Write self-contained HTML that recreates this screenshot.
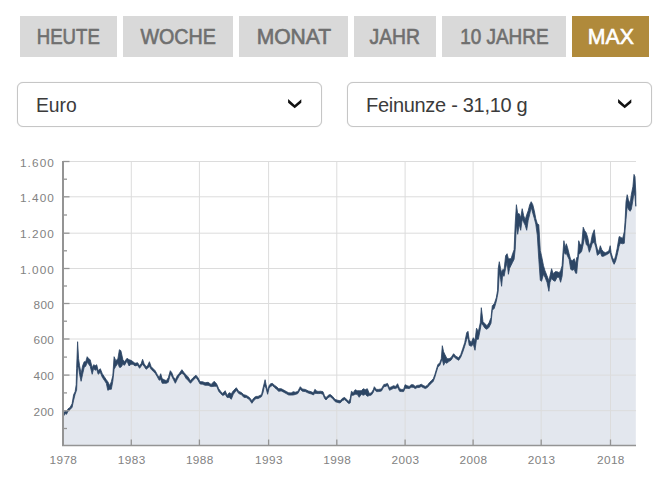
<!DOCTYPE html>
<html><head><meta charset="utf-8"><style>
html,body{margin:0;padding:0;background:#fff;width:670px;height:487px;overflow:hidden;position:relative}
body{font-family:"Liberation Sans",sans-serif}
.btn{position:absolute;top:16px;height:41px;background:#d9d9d9;color:#6f6f6f;font-weight:normal;-webkit-text-stroke:0.65px #6f6f6f;font-size:22px;line-height:42px;text-align:center;white-space:nowrap}
.btn.act{background:#b08a3b;color:#fff;-webkit-text-stroke:0.65px #fff}
.dd{position:absolute;top:82px;height:43px;width:303px;border:1px solid #c6c6c6;border-radius:6px;box-shadow:0 0 1px rgba(0,0,0,0.18);background:#fff;box-sizing:content-box}
.dd span{position:absolute;left:18px;top:0;line-height:44px;font-size:20px;color:#3b3b3b;white-space:nowrap}
.dd svg{position:absolute;top:14.5px}
</style></head><body>
<div class="btn" style="left:20px;width:97px"><span style="display:inline-block;transform:scaleX(0.845)">HEUTE</span></div>
<div class="btn" style="left:123px;width:110px"><span style="display:inline-block;transform:scaleX(0.896)">WOCHE</span></div>
<div class="btn" style="left:239px;width:109px"><span style="display:inline-block;transform:scaleX(0.958)">MONAT</span></div>
<div class="btn" style="left:354px;width:82px"><span style="display:inline-block;transform:scaleX(0.879)">JAHR</span></div>
<div class="btn" style="left:442px;width:124px"><span style="display:inline-block;transform:scaleX(0.861)">10 JAHRE</span></div>
<div class="btn act" style="left:572px;width:77px"><span style="display:inline-block;transform:scaleX(0.966)">MAX</span></div>
<div class="dd" style="left:17px"><span style="transform:scaleX(0.965);transform-origin:left center">Euro</span></div>
<div class="dd" style="left:347px"><span style="letter-spacing:-0.3px">Feinunze - 31,10 g</span></div>
<svg width="670" height="487" viewBox="0 0 670 487" style="position:absolute;left:0;top:0">
<path d="M63,445.5 L63,413.7 L63.5,412.7 L65,411.4 L66.6,411.7 L68,408.9 L70.1,407.4 L72.1,403.7 L73.6,394.7 L75.1,391.7 L76.2,384.7 L76.6,368.7 L77.6,341.7 L78.6,358.7 L79.6,365.7 L81.1,373.7 L82.6,365.7 L84.2,361.7 L85.7,361.7 L87.2,356.7 L88.7,358.7 L90.2,359.7 L92.2,367.7 L93.7,364.7 L95.2,365.7 L96.7,364.7 L98.2,370.7 L100.3,368.7 L102.3,373.7 L104.3,376.7 L106.3,379.7 L107.8,381.7 L109.8,385.7 L111.3,381.7 L112.8,375.7 L114.1,356.7 L115.8,360.7 L117.9,358.7 L119.4,349.7 L120.9,350.7 L122.9,359.7 L124.5,361.7 L127,358.3 L129,359.7 L131,360.3 L133,361.7 L135,363.3 L137.6,362.7 L139.6,365.7 L141.1,363.7 L142.6,359.3 L144.1,363.7 L146.1,366.7 L147.6,365.7 L149.4,361.7 L151.2,366.7 L153.2,368.7 L155.2,370.7 L157.2,374.4 L159.2,377.7 L160.7,373.7 L162.2,378.7 L164.2,379.7 L166.3,380.7 L168.3,377.7 L170.3,370.7 L171.8,372.7 L173.3,376.7 L175.3,379.7 L177.3,375.7 L179.3,373.4 L181.9,369.7 L183.9,372.4 L185.9,374.7 L187.9,376.7 L190.5,380.7 L193,377.7 L196,375.2 L198,377.7 L200,381.7 L202.6,381.7 L205.1,382.7 L208.1,382.3 L211.1,384.4 L214.2,381.3 L216.7,384 L218.7,388.7 L220.7,391.4 L222.7,393.4 L225.2,390.7 L227.2,395.4 L229.2,392.7 L231.3,393.7 L233.3,390.7 L236.3,387.7 L238.8,391.4 L241.3,392.4 L243.8,394.7 L246.4,395.4 L249.4,397.4 L251.9,400.7 L254,397.7 L256,396.4 L258,396.4 L260,395.4 L261.6,394.4 L263.1,387.7 L264.1,383.7 L265.1,379.7 L266.1,384.7 L267.6,390.7 L269.1,385.7 L270.6,383.7 L272.6,383.4 L274.6,385.4 L276.6,386.7 L278.7,388.7 L281.2,388.7 L283.7,390 L286.2,391.4 L288.7,392.8 L291.2,392.9 L293.2,391.7 L295.3,392.2 L297.8,391.4 L300.3,386.7 L302.3,389 L305.3,389.4 L308.3,390.9 L311.4,391.8 L313.4,392.8 L314.9,389.3 L316.9,391.2 L318.9,391.4 L320.5,391.2 L323,391.7 L324.5,395.7 L326,397.7 L328.1,395.4 L330.1,394.4 L332.6,396.4 L335.1,399.4 L337.6,400.2 L340.1,400.8 L342.6,398.2 L344.7,397.4 L346.7,399.4 L348.7,401.4 L350.2,398.7 L351.4,391.3 L353.2,392.7 L355.2,389.7 L357.2,390.7 L359.2,390.7 L361.3,390.7 L363.3,388.7 L365.3,389.7 L367.3,388.7 L369.3,393.4 L371.3,392.9 L373.3,389.7 L374.3,386.7 L376.4,389.4 L378.4,389.4 L381.4,388.9 L383.9,384.4 L385,384.4 L387.5,383.4 L389.5,387.7 L391.6,386.7 L393.6,385.7 L395.6,386.4 L397.6,383.7 L399.6,388.7 L401.6,389.4 L403.6,389.4 L405.1,384.7 L407.1,385.7 L409.2,386.4 L411.2,384.7 L413.2,384.7 L415.2,386.4 L417.2,385.4 L419.2,385.2 L421.2,384.2 L423.2,385.4 L425.3,386.4 L427.3,385.4 L429.3,382.7 L431.3,380.7 L433.3,378.7 L434.8,374.7 L436.3,369.7 L437.8,364.7 L439.8,362.7 L441.3,358.7 L442.3,345.7 L443.6,351.7 L445,354.7 L447,358.7 L449,358.7 L451,357.7 L453.6,353.7 L456,356.4 L458.7,357.7 L460.7,354.7 L462.7,348.7 L464.7,342.7 L466.7,332.7 L468,331.3 L469.2,339.7 L471.2,342.7 L473.3,337.7 L475,340.7 L476.5,328.2 L478.3,331.7 L480.3,322.7 L481.3,307.7 L483,321.7 L485,323.7 L487,325.7 L489,322.7 L491,317.7 L492.3,305.7 L494.3,303.7 L496.3,297.7 L497.5,290.7 L498.2,268.7 L499.3,261.7 L500.6,268.7 L501.6,272.7 L502.6,269.7 L504.1,269.7 L505.6,255.7 L507.1,253.7 L508.4,258.7 L509.6,258.7 L511.1,258.7 L512.6,253.7 L514.1,249.7 L515.2,223.7 L516.4,204.7 L517.7,213.7 L519.2,213.7 L520.7,217.7 L522.2,208.7 L523.7,215.7 L525.2,219.7 L526.7,214.7 L528.2,210.7 L529.7,204.7 L531.2,201.7 L532.8,204.7 L534.3,210.7 L535.8,218.7 L537.3,223.7 L538.8,224.7 L540.3,250.7 L541.5,255.7 L543.5,265.7 L545,270.7 L547,275.7 L548.9,280.7 L550,275.7 L551.6,268.7 L553.1,273.7 L555.1,271.7 L557.1,271.7 L559.1,272.7 L560.6,270.7 L562.1,265.7 L563.1,250.7 L563.9,240.7 L565.1,247.7 L566.3,243.7 L567.6,247.7 L569.1,253.7 L570.7,259.7 L572.2,260.7 L574.2,258.7 L575.7,263.7 L576.7,257.7 L577.7,256.7 L578.7,240.7 L580.2,244.7 L581.7,244.7 L583.2,227.2 L584.7,230.7 L586.2,232.7 L587.8,237.7 L589.3,245.7 L590.8,242.7 L592.3,234.7 L594.3,229.7 L595.8,242.7 L597.3,248.7 L598.8,251.7 L600.3,245.7 L601.8,249.7 L603.4,251.7 L605.4,252.7 L607.4,251.7 L608.9,250.7 L610.2,245.7 L611.1,252.7 L612.6,257.7 L614.1,260.7 L615.6,255.7 L617.1,248.7 L619.1,236.7 L620.2,236.7 L621,237.7 L622.7,238.2 L624.3,231.7 L625.1,220.7 L626,201.7 L627.2,194.7 L628.4,199.7 L630.1,203.7 L631.3,194.7 L632.9,186.7 L634,174.4 L635,176.7 L635.8,192.7 L635.8,445.5 Z" fill="#e3e7ee"/>
<line x1="63" x2="636" y1="410.7" y2="410.7" stroke="#dcdcdc" stroke-width="1"/>
<line x1="63" x2="636" y1="375.1" y2="375.1" stroke="#dcdcdc" stroke-width="1"/>
<line x1="63" x2="636" y1="339" y2="339" stroke="#dcdcdc" stroke-width="1"/>
<line x1="63" x2="636" y1="303.5" y2="303.5" stroke="#dcdcdc" stroke-width="1"/>
<line x1="63" x2="636" y1="268.5" y2="268.5" stroke="#dcdcdc" stroke-width="1"/>
<line x1="63" x2="636" y1="233.2" y2="233.2" stroke="#dcdcdc" stroke-width="1"/>
<line x1="63" x2="636" y1="196.8" y2="196.8" stroke="#dcdcdc" stroke-width="1"/>
<line x1="63" x2="636" y1="161.5" y2="161.5" stroke="#dcdcdc" stroke-width="1"/>
<line x1="131.3" x2="131.3" y1="162" y2="445" stroke="#dcdcdc" stroke-width="1"/>
<line x1="199.4" x2="199.4" y1="162" y2="445" stroke="#dcdcdc" stroke-width="1"/>
<line x1="268.6" x2="268.6" y1="162" y2="445" stroke="#dcdcdc" stroke-width="1"/>
<line x1="336.8" x2="336.8" y1="162" y2="445" stroke="#dcdcdc" stroke-width="1"/>
<line x1="405.1" x2="405.1" y1="162" y2="445" stroke="#dcdcdc" stroke-width="1"/>
<line x1="473.1" x2="473.1" y1="162" y2="445" stroke="#dcdcdc" stroke-width="1"/>
<line x1="541.2" x2="541.2" y1="162" y2="445" stroke="#dcdcdc" stroke-width="1"/>
<line x1="610.5" x2="610.5" y1="162" y2="445" stroke="#dcdcdc" stroke-width="1"/>
<path d="M63,413.7 L63.5,412.7 L65,411.4 L66.6,411.7 L68,408.9 L70.1,407.4 L72.1,403.7 L73.6,394.7 L75.1,391.7 L76.2,384.7 L76.6,368.7 L77.6,341.7 L78.6,358.7 L79.6,365.7 L81.1,373.7 L82.6,365.7 L84.2,361.7 L85.7,361.7 L87.2,356.7 L88.7,358.7 L90.2,359.7 L92.2,367.7 L93.7,364.7 L95.2,365.7 L96.7,364.7 L98.2,370.7 L100.3,368.7 L102.3,373.7 L104.3,376.7 L106.3,379.7 L107.8,381.7 L109.8,385.7 L111.3,381.7 L112.8,375.7 L114.1,356.7 L115.8,360.7 L117.9,358.7 L119.4,349.7 L120.9,350.7 L122.9,359.7 L124.5,361.7 L127,358.3 L129,359.7 L131,360.3 L133,361.7 L135,363.3 L137.6,362.7 L139.6,365.7 L141.1,363.7 L142.6,359.3 L144.1,363.7 L146.1,366.7 L147.6,365.7 L149.4,361.7 L151.2,366.7 L153.2,368.7 L155.2,370.7 L157.2,374.4 L159.2,377.7 L160.7,373.7 L162.2,378.7 L164.2,379.7 L166.3,380.7 L168.3,377.7 L170.3,370.7 L171.8,372.7 L173.3,376.7 L175.3,379.7 L177.3,375.7 L179.3,373.4 L181.9,369.7 L183.9,372.4 L185.9,374.7 L187.9,376.7 L190.5,380.7 L193,377.7 L196,375.2 L198,377.7 L200,381.7 L202.6,381.7 L205.1,382.7 L208.1,382.3 L211.1,384.4 L214.2,381.3 L216.7,384 L218.7,388.7 L220.7,391.4 L222.7,393.4 L225.2,390.7 L227.2,395.4 L229.2,392.7 L231.3,393.7 L233.3,390.7 L236.3,387.7 L238.8,391.4 L241.3,392.4 L243.8,394.7 L246.4,395.4 L249.4,397.4 L251.9,400.7 L254,397.7 L256,396.4 L258,396.4 L260,395.4 L261.6,394.4 L263.1,387.7 L264.1,383.7 L265.1,379.7 L266.1,384.7 L267.6,390.7 L269.1,385.7 L270.6,383.7 L272.6,383.4 L274.6,385.4 L276.6,386.7 L278.7,388.7 L281.2,388.7 L283.7,390 L286.2,391.4 L288.7,392.8 L291.2,392.9 L293.2,391.7 L295.3,392.2 L297.8,391.4 L300.3,386.7 L302.3,389 L305.3,389.4 L308.3,390.9 L311.4,391.8 L313.4,392.8 L314.9,389.3 L316.9,391.2 L318.9,391.4 L320.5,391.2 L323,391.7 L324.5,395.7 L326,397.7 L328.1,395.4 L330.1,394.4 L332.6,396.4 L335.1,399.4 L337.6,400.2 L340.1,400.8 L342.6,398.2 L344.7,397.4 L346.7,399.4 L348.7,401.4 L350.2,398.7 L351.4,391.3 L353.2,392.7 L355.2,389.7 L357.2,390.7 L359.2,390.7 L361.3,390.7 L363.3,388.7 L365.3,389.7 L367.3,388.7 L369.3,393.4 L371.3,392.9 L373.3,389.7 L374.3,386.7 L376.4,389.4 L378.4,389.4 L381.4,388.9 L383.9,384.4 L385,384.4 L387.5,383.4 L389.5,387.7 L391.6,386.7 L393.6,385.7 L395.6,386.4 L397.6,383.7 L399.6,388.7 L401.6,389.4 L403.6,389.4 L405.1,384.7 L407.1,385.7 L409.2,386.4 L411.2,384.7 L413.2,384.7 L415.2,386.4 L417.2,385.4 L419.2,385.2 L421.2,384.2 L423.2,385.4 L425.3,386.4 L427.3,385.4 L429.3,382.7 L431.3,380.7 L433.3,378.7 L434.8,374.7 L436.3,369.7 L437.8,364.7 L439.8,362.7 L441.3,358.7 L442.3,345.7 L443.6,351.7 L445,354.7 L447,358.7 L449,358.7 L451,357.7 L453.6,353.7 L456,356.4 L458.7,357.7 L460.7,354.7 L462.7,348.7 L464.7,342.7 L466.7,332.7 L468,331.3 L469.2,339.7 L471.2,342.7 L473.3,337.7 L475,340.7 L476.5,328.2 L478.3,331.7 L480.3,322.7 L481.3,307.7 L483,321.7 L485,323.7 L487,325.7 L489,322.7 L491,317.7 L492.3,305.7 L494.3,303.7 L496.3,297.7 L497.5,290.7 L498.2,268.7 L499.3,261.7 L500.6,268.7 L501.6,272.7 L502.6,269.7 L504.1,269.7 L505.6,255.7 L507.1,253.7 L508.4,258.7 L509.6,258.7 L511.1,258.7 L512.6,253.7 L514.1,249.7 L515.2,223.7 L516.4,204.7 L517.7,213.7 L519.2,213.7 L520.7,217.7 L522.2,208.7 L523.7,215.7 L525.2,219.7 L526.7,214.7 L528.2,210.7 L529.7,204.7 L531.2,201.7 L532.8,204.7 L534.3,210.7 L535.8,218.7 L537.3,223.7 L538.8,224.7 L540.3,250.7 L541.5,255.7 L543.5,265.7 L545,270.7 L547,275.7 L548.9,280.7 L550,275.7 L551.6,268.7 L553.1,273.7 L555.1,271.7 L557.1,271.7 L559.1,272.7 L560.6,270.7 L562.1,265.7 L563.1,250.7 L563.9,240.7 L565.1,247.7 L566.3,243.7 L567.6,247.7 L569.1,253.7 L570.7,259.7 L572.2,260.7 L574.2,258.7 L575.7,263.7 L576.7,257.7 L577.7,256.7 L578.7,240.7 L580.2,244.7 L581.7,244.7 L583.2,227.2 L584.7,230.7 L586.2,232.7 L587.8,237.7 L589.3,245.7 L590.8,242.7 L592.3,234.7 L594.3,229.7 L595.8,242.7 L597.3,248.7 L598.8,251.7 L600.3,245.7 L601.8,249.7 L603.4,251.7 L605.4,252.7 L607.4,251.7 L608.9,250.7 L610.2,245.7 L611.1,252.7 L612.6,257.7 L614.1,260.7 L615.6,255.7 L617.1,248.7 L619.1,236.7 L620.2,236.7 L621,237.7 L622.7,238.2 L624.3,231.7 L625.1,220.7 L626,201.7 L627.2,194.7 L628.4,199.7 L630.1,203.7 L631.3,194.7 L632.9,186.7 L634,174.4 L635,176.7 L635.8,192.7 L635.8,206.3 L635,196.3 L634,192.3 L632.9,200.3 L631.3,209.3 L630.1,211.3 L628.4,209.3 L627.2,206.3 L626,219.3 L625.1,230.3 L624.3,243.3 L622.7,243.8 L621,243.3 L620.2,243.3 L619.1,246.3 L617.1,255.3 L615.6,261.3 L614.1,264.3 L612.6,261.3 L611.1,256.3 L610.2,252.3 L608.9,253.3 L607.4,254.3 L605.4,255.3 L603.4,256.3 L601.8,256.3 L600.3,252.3 L598.8,254.3 L597.3,255.3 L595.8,247.3 L594.3,242.3 L592.3,243.3 L590.8,248.3 L589.3,252.3 L587.8,246.3 L586.2,244.3 L584.7,236.3 L583.2,244.3 L581.7,251.3 L580.2,253.3 L578.7,254.3 L577.7,262.3 L576.7,273.3 L575.7,273.3 L574.2,269.3 L572.2,270.3 L570.7,269.3 L569.1,259.3 L567.6,256.3 L566.3,253.3 L565.1,254.3 L563.9,250.3 L563.1,264.3 L562.1,276.3 L560.6,282.3 L559.1,277.3 L557.1,277.3 L555.1,281.3 L553.1,280.3 L551.6,278.3 L550,282.3 L548.9,291.3 L547,282.3 L545,277.3 L543.5,274.3 L541.5,281.3 L540.3,280.3 L538.8,259.3 L537.3,235.3 L535.8,224.3 L534.3,218.3 L532.8,213.3 L531.2,207.3 L529.7,214.3 L528.2,220.3 L526.7,230.3 L525.2,225.3 L523.7,222.3 L522.2,219.3 L520.7,230.3 L519.2,224.3 L517.7,234.3 L516.4,224.3 L515.2,249.3 L514.1,259.3 L512.6,262.3 L511.1,265.3 L509.6,268.3 L508.4,274.3 L507.1,262.3 L505.6,268.3 L504.1,276.3 L502.6,275.3 L501.6,286.3 L500.6,279.3 L499.3,272.3 L498.2,291.3 L497.5,295.3 L496.3,301.3 L494.3,308.3 L492.3,310.3 L491,323.3 L489,327.3 L487,329.3 L485,328.3 L483,325.3 L481.3,323.3 L480.3,329.3 L478.3,339.3 L476.5,339.3 L475,350.3 L473.3,344.3 L471.2,346.3 L469.2,345.3 L468,337.3 L466.7,339.3 L464.7,346.3 L462.7,352.3 L460.7,357.3 L458.7,360.3 L456,358.6 L453.6,356.3 L451,360.3 L449,361.3 L447,363.3 L445,362.3 L443.6,365.3 L442.3,359.3 L441.3,361.3 L439.8,365.3 L437.8,367.3 L436.3,372.3 L434.8,377.3 L433.3,381.3 L431.3,383.3 L429.3,385.3 L427.3,387.6 L425.3,388.6 L423.2,387.6 L421.2,386.5 L419.2,387.5 L417.2,387.6 L415.2,388.6 L413.2,387.3 L411.2,387.3 L409.2,388.6 L407.1,388.3 L405.1,388.3 L403.6,391.6 L401.6,391.6 L399.6,391.3 L397.6,387.3 L395.6,388.6 L393.6,388.3 L391.6,389.3 L389.5,390.3 L387.5,385.6 L385,386.6 L383.9,386.6 L381.4,391.1 L378.4,391.6 L376.4,391.6 L374.3,389.3 L373.3,392.3 L371.3,395.1 L369.3,395.6 L367.3,396.3 L365.3,394.3 L363.3,395.3 L361.3,394.3 L359.2,397.3 L357.2,394.3 L355.2,394.3 L353.2,395.3 L351.4,395.3 L350.2,403 L348.7,403.6 L346.7,401.6 L344.7,399.6 L342.6,400.5 L340.1,403 L337.6,402.5 L335.1,401.6 L332.6,398.6 L330.1,396.6 L328.1,397.6 L326,400 L324.5,398.3 L323,394.3 L320.5,393.4 L318.9,393.6 L316.9,393.5 L314.9,393.3 L313.4,395 L311.4,394 L308.3,393.1 L305.3,391.6 L302.3,391.2 L300.3,389.3 L297.8,393.6 L295.3,394.5 L293.2,395 L291.2,395.1 L288.7,395 L286.2,393.6 L283.7,392.2 L281.2,390.9 L278.7,391.3 L276.6,389.3 L274.6,387.6 L272.6,385.6 L270.6,386.3 L269.1,388.3 L267.6,394.3 L266.1,388.3 L265.1,386.3 L264.1,387.3 L263.1,392.3 L261.6,396.6 L260,397.6 L258,398.6 L256,398.6 L254,400.3 L251.9,403.3 L249.4,399.6 L246.4,397.6 L243.8,397.3 L241.3,394.6 L238.8,393.6 L236.3,390.3 L233.3,394.3 L231.3,399.3 L229.2,397.3 L227.2,397.6 L225.2,394.3 L222.7,395.6 L220.7,393.6 L218.7,391.3 L216.7,386.2 L214.2,386.3 L211.1,386.6 L208.1,385.3 L205.1,385.3 L202.6,384.3 L200,383.9 L198,380.3 L196,377.4 L193,380.3 L190.5,383.3 L187.9,380.3 L185.9,378.3 L183.9,374.6 L181.9,373.3 L179.3,375.6 L177.3,379.3 L175.3,383.3 L173.3,379.3 L171.8,376.3 L170.3,374.3 L168.3,382.3 L166.3,383.3 L164.2,383.3 L162.2,383.3 L160.7,379.3 L159.2,380.3 L157.2,376.6 L155.2,373.3 L153.2,371.3 L151.2,369.3 L149.4,366.3 L147.6,368.3 L146.1,369.3 L144.1,366.3 L142.6,364.3 L141.1,366.3 L139.6,368.3 L137.6,365.3 L135,365.9 L133,364.3 L131,364.3 L129,365.9 L127,360.9 L124.5,365.3 L122.9,364.3 L120.9,367.3 L119.4,367.3 L117.9,363.3 L115.8,366.3 L114.1,369.3 L112.8,381.3 L111.3,389.3 L109.8,389.3 L107.8,390.3 L106.3,383.3 L104.3,380.3 L102.3,377.3 L100.3,372.3 L98.2,374.3 L96.7,369.3 L95.2,370.3 L93.7,368.3 L92.2,374.3 L90.2,366.3 L88.7,364.3 L87.2,362.3 L85.7,366.3 L84.2,367.3 L82.6,374.3 L81.1,381.3 L79.6,374.3 L78.6,367.3 L77.6,367.3 L76.6,390.3 L76.2,391.3 L75.1,394.3 L73.6,400.3 L72.1,407.3 L70.1,409.6 L68,411.1 L66.6,414.3 L65,413.6 L63.5,416.3 L63,417.3 Z" fill="#2c4564" stroke="#2c4564" stroke-width="0.8" stroke-linejoin="round"/>
<line x1="63" x2="63" y1="161" y2="446" stroke="#949494" stroke-width="2"/>
<line x1="62" x2="636" y1="445.5" y2="445.5" stroke="#949494" stroke-width="1.6"/>
<line x1="63" x2="67" y1="428.5" y2="428.5" stroke="#949494" stroke-width="1.3"/>
<line x1="63" x2="69.5" y1="410.7" y2="410.7" stroke="#949494" stroke-width="1.3"/>
<line x1="63" x2="67" y1="392.9" y2="392.9" stroke="#949494" stroke-width="1.3"/>
<line x1="63" x2="69.5" y1="375.1" y2="375.1" stroke="#949494" stroke-width="1.3"/>
<line x1="63" x2="67" y1="357.1" y2="357.1" stroke="#949494" stroke-width="1.3"/>
<line x1="63" x2="69.5" y1="339" y2="339" stroke="#949494" stroke-width="1.3"/>
<line x1="63" x2="67" y1="321.2" y2="321.2" stroke="#949494" stroke-width="1.3"/>
<line x1="63" x2="69.5" y1="303.5" y2="303.5" stroke="#949494" stroke-width="1.3"/>
<line x1="63" x2="67" y1="286" y2="286" stroke="#949494" stroke-width="1.3"/>
<line x1="63" x2="69.5" y1="268.5" y2="268.5" stroke="#949494" stroke-width="1.3"/>
<line x1="63" x2="67" y1="250.8" y2="250.8" stroke="#949494" stroke-width="1.3"/>
<line x1="63" x2="69.5" y1="233.2" y2="233.2" stroke="#949494" stroke-width="1.3"/>
<line x1="63" x2="67" y1="215" y2="215" stroke="#949494" stroke-width="1.3"/>
<line x1="63" x2="69.5" y1="196.8" y2="196.8" stroke="#949494" stroke-width="1.3"/>
<line x1="63" x2="67" y1="179.2" y2="179.2" stroke="#949494" stroke-width="1.3"/>
<line x1="63" x2="69.5" y1="161.5" y2="161.5" stroke="#949494" stroke-width="1.3"/>
<line x1="131.3" x2="131.3" y1="439.5" y2="445" stroke="#949494" stroke-width="1.3"/>
<line x1="199.4" x2="199.4" y1="439.5" y2="445" stroke="#949494" stroke-width="1.3"/>
<line x1="268.6" x2="268.6" y1="439.5" y2="445" stroke="#949494" stroke-width="1.3"/>
<line x1="336.8" x2="336.8" y1="439.5" y2="445" stroke="#949494" stroke-width="1.3"/>
<line x1="405.1" x2="405.1" y1="439.5" y2="445" stroke="#949494" stroke-width="1.3"/>
<line x1="473.1" x2="473.1" y1="439.5" y2="445" stroke="#949494" stroke-width="1.3"/>
<line x1="541.2" x2="541.2" y1="439.5" y2="445" stroke="#949494" stroke-width="1.3"/>
<line x1="610.5" x2="610.5" y1="439.5" y2="445" stroke="#949494" stroke-width="1.3"/>
<text x="33.5" y="415.7" font-family="Liberation Sans" font-size="11.8" fill="#828282" textLength="20.4" lengthAdjust="spacing">200</text>
<text x="33.5" y="380.1" font-family="Liberation Sans" font-size="11.8" fill="#828282" textLength="20.4" lengthAdjust="spacing">400</text>
<text x="33.5" y="344" font-family="Liberation Sans" font-size="11.8" fill="#828282" textLength="20.4" lengthAdjust="spacing">600</text>
<text x="33.5" y="308.5" font-family="Liberation Sans" font-size="11.8" fill="#828282" textLength="20.4" lengthAdjust="spacing">800</text>
<text x="19.9" y="273.5" font-family="Liberation Sans" font-size="11.8" fill="#828282" textLength="34" lengthAdjust="spacing">1.000</text>
<text x="19.9" y="238.2" font-family="Liberation Sans" font-size="11.8" fill="#828282" textLength="34" lengthAdjust="spacing">1.200</text>
<text x="19.9" y="201.8" font-family="Liberation Sans" font-size="11.8" fill="#828282" textLength="34" lengthAdjust="spacing">1.400</text>
<text x="19.9" y="166.5" font-family="Liberation Sans" font-size="11.8" fill="#828282" textLength="34" lengthAdjust="spacing">1.600</text>
<text x="49.5" y="464" font-family="Liberation Sans" font-size="11.8" fill="#828282" textLength="27.4" lengthAdjust="spacing">1978</text>
<text x="117.8" y="464" font-family="Liberation Sans" font-size="11.8" fill="#828282" textLength="27.4" lengthAdjust="spacing">1983</text>
<text x="185.9" y="464" font-family="Liberation Sans" font-size="11.8" fill="#828282" textLength="27.4" lengthAdjust="spacing">1988</text>
<text x="255.1" y="464" font-family="Liberation Sans" font-size="11.8" fill="#828282" textLength="27.4" lengthAdjust="spacing">1993</text>
<text x="323.3" y="464" font-family="Liberation Sans" font-size="11.8" fill="#828282" textLength="27.4" lengthAdjust="spacing">1998</text>
<text x="391.6" y="464" font-family="Liberation Sans" font-size="11.8" fill="#828282" textLength="27.4" lengthAdjust="spacing">2003</text>
<text x="459.6" y="464" font-family="Liberation Sans" font-size="11.8" fill="#828282" textLength="27.4" lengthAdjust="spacing">2008</text>
<text x="527.7" y="464" font-family="Liberation Sans" font-size="11.8" fill="#828282" textLength="27.4" lengthAdjust="spacing">2013</text>
<text x="597" y="464" font-family="Liberation Sans" font-size="11.8" fill="#828282" textLength="27.4" lengthAdjust="spacing">2018</text>
<path d="M288.1,99.0 L294.7,104.9 L301.3,99.2 L301.3,102.8 L294.7,108.2 L288.1,102.8 Z" fill="#111"/>
<path d="M618.1,99.0 L624.7,104.9 L631.3,99.2 L631.3,102.8 L624.7,108.2 L618.1,102.8 Z" fill="#111"/>
</svg>
</body></html>
